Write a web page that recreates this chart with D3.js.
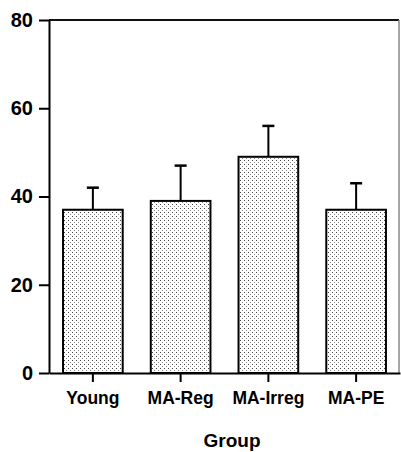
<!DOCTYPE html>
<html>
<head>
<meta charset="utf-8">
<style>
body { margin: 0; background: #fff; }
svg { display: block; font-family: "Liberation Sans", Arial, Helvetica, sans-serif; }
</style>
</head>
<body>
<svg width="401" height="452"></svg>
<script src="https://cdn.jsdelivr.net/npm/d3@7"></script>
<script>
// values
var groups = ["Young", "MA-Reg", "MA-Irreg", "MA-PE"];
var means = [37, 39, 49, 37];
var upper = [42, 47, 56, 43];   // top of error bar
var yTicks = [0, 20, 40, 60, 80];

var svg = d3.select("svg"),
    margin = {top: 20, right: 1, bottom: 79, left: 49},
    width = +svg.attr("width") - margin.left - margin.right,
    height = +svg.attr("height") - margin.top - margin.bottom;

var x = d3.scaleBand()
    .domain(groups)
    .range([margin.left, margin.left + width])
    .paddingInner(0.32)
    .paddingOuter(0.16);

var y = d3.scaleLinear()
    .domain([0, 80])
    .range([margin.top + height, margin.top]);

// stipple fill
var defs = svg.append("defs");
var pat = defs.append("pattern")
    .attr("id", "dots")
    .attr("patternUnits", "userSpaceOnUse")
    .attr("width", 4)
    .attr("height", 4);
pat.append("rect").attr("width", 4).attr("height", 4).attr("fill", "#fff");
pat.append("rect").attr("x", 0).attr("y", 0).attr("width", 1).attr("height", 1).attr("fill", "#444");
pat.append("rect").attr("x", 2).attr("y", 2).attr("width", 1).attr("height", 1).attr("fill", "#888");

// frame: top and right
svg.append("line")
    .attr("x1", margin.left).attr("x2", margin.left + width - 1)
    .attr("y1", y(80)).attr("y2", y(80))
    .attr("stroke", "#111").attr("stroke-width", 2);
svg.append("line")
    .attr("x1", margin.left + width - 1).attr("x2", margin.left + width - 1)
    .attr("y1", y(80)).attr("y2", y(0))
    .attr("stroke", "#888").attr("stroke-width", 1.5);

// error bars
var err = svg.append("g").selectAll("g")
    .data(groups)
    .enter().append("g");
err.append("line")
    .attr("x1", function(d) { return x(d) + x.bandwidth() / 2; })
    .attr("x2", function(d) { return x(d) + x.bandwidth() / 2; })
    .attr("y1", function(d, i) { return y(means[i]); })
    .attr("y2", function(d, i) { return y(upper[i]); })
    .attr("stroke", "#000").attr("stroke-width", 2);
err.append("line")
    .attr("x1", function(d) { return x(d) + x.bandwidth() / 2 - 6; })
    .attr("x2", function(d) { return x(d) + x.bandwidth() / 2 + 6; })
    .attr("y1", function(d, i) { return y(upper[i]); })
    .attr("y2", function(d, i) { return y(upper[i]); })
    .attr("stroke", "#000").attr("stroke-width", 2.5);

// bars
svg.append("g").selectAll("rect")
    .data(groups)
    .enter().append("rect")
      .attr("x", function(d) { return x(d); })
      .attr("y", function(d, i) { return y(means[i]); })
      .attr("width", x.bandwidth())
      .attr("height", function(d, i) { return y(0) - y(means[i]); })
      .attr("fill", "url(#dots)")
      .attr("stroke", "#000")
      .attr("stroke-width", 2);

// y axis
var yAxis = svg.append("g")
    .attr("transform", "translate(" + margin.left + ",0)")
    .call(d3.axisLeft(y).tickValues(yTicks).tickSize(10).tickSizeOuter(0).tickPadding(6));
yAxis.select(".domain").attr("stroke-width", 2);
yAxis.selectAll(".tick line").attr("stroke-width", 2);
yAxis.selectAll(".tick text")
    .attr("font-size", 20)
    .attr("font-weight", "bold")
    .attr("font-family", "\"Liberation Sans\", Arial, sans-serif")
    .attr("fill", "#000");

// x axis
var xAxis = svg.append("g")
    .attr("transform", "translate(0," + y(0) + ")")
    .call(d3.axisBottom(x).tickSize(9).tickSizeOuter(0).tickPadding(10));
xAxis.select(".domain").attr("stroke-width", 2);
xAxis.selectAll(".tick line").attr("stroke-width", 2);
xAxis.selectAll(".tick text")
    .attr("font-size", 17.5)
    .attr("font-weight", "bold")
    .attr("font-family", "\"Liberation Sans\", Arial, sans-serif")
    .attr("fill", "#000");

// axis title
svg.append("text")
    .attr("x", 232)
    .attr("y", 447)
    .attr("text-anchor", "middle")
    .attr("font-size", 19)
    .attr("font-weight", "bold")
    .attr("fill", "#000")
    .text("Group");
</script>
</body>
</html>
